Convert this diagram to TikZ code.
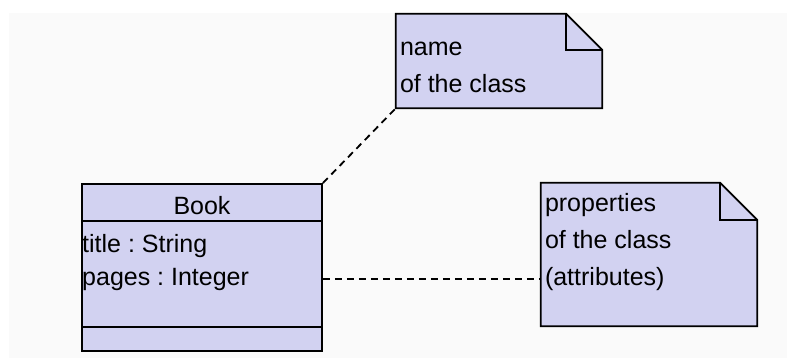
\documentclass[tikz,border=0pt]{standalone}
\usepackage{fontspec}
\setmainfont{Liberation Sans}
\usetikzlibrary{positioning}
\definecolor{umlfill}{RGB}{210,210,241}
\definecolor{paper}{RGB}{250,250,250}
\tikzset{
    classbox/.style={draw, line width=1.8pt, fill=umlfill, inner sep=0pt,
        minimum width=240pt, minimum height=167pt},
    noteshape/.style={draw, line width=1.8pt, fill=umlfill, line join=miter},
    notearea/.style={inner sep=0pt},
    umltext/.style={inner sep=0pt, font=\fontsize{25}{33}\selectfont},
    notetext/.style={umltext, align=left, font=\fontsize{25}{37}\selectfont},
    link/.style={line width=1.8pt, dash pattern=on 7pt off 5pt}
}
\newcommand{\foldednote}[2]{% #1 node name, #2 fold size
    \draw[noteshape] (#1.north west) -- ([xshift=-#2]#1.north east)
        -- ([yshift=-#2]#1.north east) -- (#1.south east)
        -- (#1.south west) -- cycle;
    \draw[line width=1.8pt] ([xshift=-#2]#1.north east)
        |- ([yshift=-#2]#1.north east);
}
\frenchspacing
\begin{document}
\begin{tikzpicture}[x=1pt, y=-1pt]
    \useasboundingbox (0,0) rectangle (787,358);
    \fill[paper] (9,13) rectangle (787,358);

    % class Book
    \node[classbox] (book) at (202,267.5) {};
    \draw[line width=1.8pt] ([yshift=-38pt]book.north west) -- ([yshift=-38pt]book.north east);
    \draw[line width=1.8pt] ([yshift=25pt]book.south west) -- ([yshift=25pt]book.south east);
    \node[umltext] (name) at (202,206) {Book};
    \node[umltext, anchor=west] (title) at (82,246) {title : String};
    \node[umltext, anchor=west] (pages) at (82,279) {pages : Integer};

    % notes
    \node[notearea, minimum width=206pt, minimum height=94pt] (note1) at (499,61) {};
    \foldednote{note1}{36pt}
    \node[notetext, anchor=west] (text1) at ([xshift=4pt,yshift=-6pt]note1.west) {name\\of the class};

    \node[notearea, minimum width=216pt, minimum height=143pt] (note2) at (649,254.5) {};
    \foldednote{note2}{37pt}
    \node[notetext, anchor=north west] (text2) at ([xshift=4pt,yshift=-10pt]note2.north west) {properties\\of the class\\(attributes)};

    % connectors
    \draw[link] (book.north east) -- (note1.south west);
    \draw[link] (book.east |- pages.center) -- (note2.west |- pages.center);
\end{tikzpicture}
\end{document}
